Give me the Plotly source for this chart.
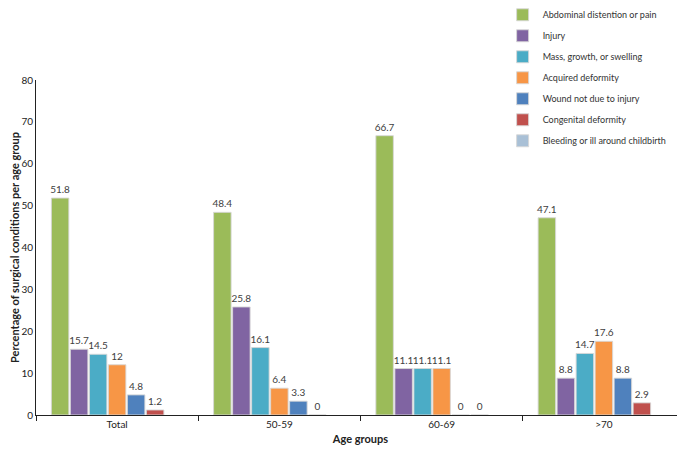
import plotly.graph_objects as go

categories = ["Total", "50-59", "60-69", ">70"]
series_names = [
    "Abdominal distention or pain",
    "Injury",
    "Mass, growth, or swelling",
    "Acquired deformity",
    "Wound not due to injury",
    "Congenital deformity",
    "Bleeding or ill around childbirth",
]
abdominal = [51.8, 48.4, 66.7, 47.1]
injury = [15.7, 25.8, 11.1, 8.8]
mass = [14.5, 16.1, 11.1, 14.7]
acquired = [12, 6.4, 11.1, 17.6]
wound = [4.8, 3.3, 0, 8.8]
congenital = [1.2, 0, 0, 2.9]
bleeding = [None, None, None, None]
colors = ["#9BBB59", "#8064A2", "#4BACC6", "#F79646", "#4F81BD", "#C0504D", "#A9C0D6"]

all_values = [abdominal, injury, mass, acquired, wound, congenital, bleeding]

FONT = "Lato"
fig = go.Figure()
for i, (name, vals, col) in enumerate(zip(series_names, all_values, colors)):
    fig.add_trace(go.Bar(
        name=name, x=categories, y=vals,
        marker=dict(color=col, line=dict(color="rgba(215,215,215,0.9)", width=1)),
        text=[("" if v is None else f"{v:g}") for v in vals],
        textposition="outside",
        textfont=dict(family=FONT, size=10, color="#404040"),
        constraintext="none",
        cliponaxis=False,
        legendgroup=f"g{i}",
    ))

# page body has an 8px margin, so the figure is sized to fit the 685x449 window
fig.update_layout(
    width=677, height=441,
    margin=dict(l=28, r=0, t=72, b=34, autoexpand=False),
    paper_bgcolor="white", plot_bgcolor="white",
    barmode="group", bargap=0.18, bargroupgap=0.08,
    font=dict(family=FONT, size=10, color="#222"),
    legend=dict(
        x=0.719, y=1.238, xanchor="left", yanchor="top",
        font=dict(family=FONT, size=9, color="#333"),
        tracegroupgap=2, bgcolor="rgba(0,0,0,0)",
    ),
    xaxis=dict(
        automargin=False,
        showline=True, linecolor="#222", linewidth=1,
        ticks="outside", tickson="boundaries", ticklen=5, tickcolor="#222",
        tickfont=dict(family=FONT, size=10, color="#222"),
        title=dict(text="<b>Age groups</b>", font=dict(family=FONT, size=11, color="#222"), standoff=6),
    ),
    yaxis=dict(
        automargin=False,
        range=[0, 80], dtick=10, showgrid=False, zeroline=False,
        showline=True, linecolor="#222", linewidth=1,
        ticks="", tickfont=dict(family=FONT, size=10, color="#222"),
        title=dict(text="<b>Percentage of surgical conditions per age group</b>",
                   font=dict(family=FONT, size=11, color="#222"), standoff=4),
    ),
)

fig.write_html("out.html")
